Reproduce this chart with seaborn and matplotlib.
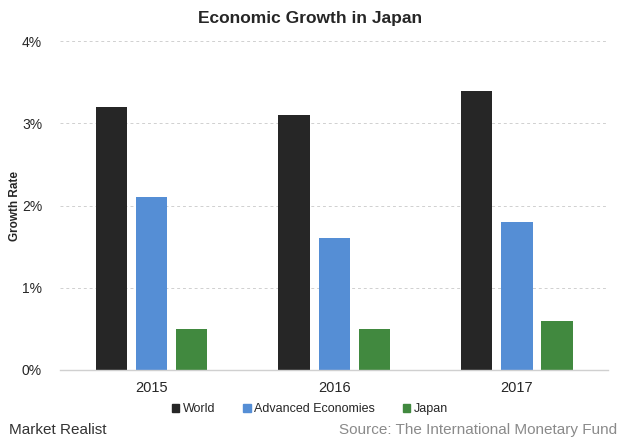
import pandas as pd
import numpy as np
import matplotlib.pyplot as plt
import seaborn as sns
from matplotlib.ticker import FuncFormatter
from matplotlib.patches import Patch

years = ['2015', '2016', '2017']
series = ['World', 'Advanced Economies', 'Japan']
world = [3.2, 3.1, 3.4]
advanced = [2.1, 1.6, 1.8]
japan = [0.5, 0.5, 0.6]

BLACK = '#262626'
BLUE = '#558ED5'
GREEN = '#41893F'
palette = [BLACK, BLUE, GREEN]

df = pd.DataFrame({
    'year': years * 3,
    'series': [s for s in series for _ in years],
    'value': world + advanced + japan,
})

sns.set_theme(style='white')
plt.rcParams['font.family'] = ['Liberation Sans', 'DejaVu Sans']

fig = plt.figure(figsize=(6.2, 4.43), dpi=100)
ax = fig.add_axes([0.097, 0.165, 0.884, 0.742])

sns.barplot(data=df, x='year', y='value', hue='series', hue_order=series,
            palette=palette, width=0.66, gap=0.22, saturation=1,
            linewidth=0, legend=False, ax=ax)

ax.set_ylim(0, 4)
ax.set_yticks([0, 1, 2, 3, 4])
ax.yaxis.set_major_formatter(FuncFormatter(lambda v, p: f"{v:.0f}%"))
ax.grid(axis='y', color='#D0D0D0', linestyle=(0, (3, 3)), linewidth=0.7)
ax.set_axisbelow(True)
for s in ['top', 'right', 'left']:
    ax.spines[s].set_visible(False)
ax.spines['bottom'].set_color('#D0D0D0')
ax.spines['bottom'].set_linewidth(1)
ax.tick_params(axis='both', length=0, labelsize=10.5, colors='#262626')
ax.tick_params(axis='y', pad=13, labelsize=10)
ax.tick_params(axis='x', pad=8)
ax.set_xlabel('')
ax.set_ylabel('Growth Rate', fontsize=8.5, fontweight='bold')
ax.yaxis.set_label_coords(-0.072, 0.5)

fig.text(0.5, 0.958, 'Economic Growth in Japan', ha='center', va='center',
         fontsize=12.5, fontweight='bold')

handles = [Patch(color=c, label=l) for c, l in zip(palette, series)]
fig.legend(handles=handles, loc='center', bbox_to_anchor=(0.5, 0.076), ncol=3,
           frameon=False, fontsize=9, handlelength=0.6, handleheight=0.6,
           handletextpad=0.3, columnspacing=2.2)

fig.text(0.015, 0.03, 'Market Realist', ha='left', va='center', fontsize=11,
         color='#333333')
fig.text(0.995, 0.03, 'Source: The International Monetary Fund', ha='right',
         va='center', fontsize=11, color='#8A8A8A')

plt.savefig('out.png', dpi=100)
plt.close()
